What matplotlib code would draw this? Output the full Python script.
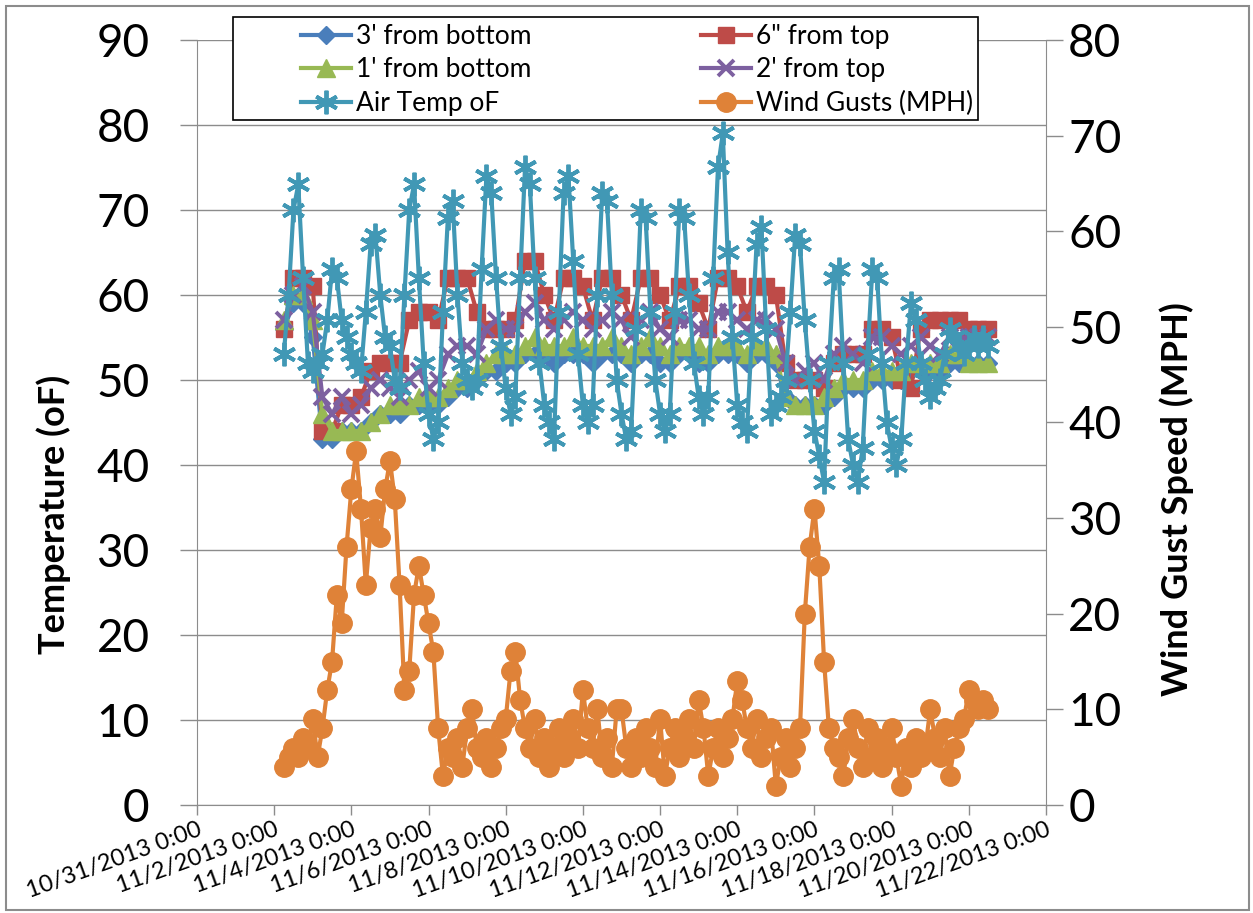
import pandas as pd
import matplotlib
matplotlib.use('Agg')
from matplotlib import pyplot as plt
from matplotlib.patches import Rectangle

plt.rcParams['font.family'] = ['Lato', 'DejaVu Sans']

# Time bases (water temps every 6 h, air temp + wind every 3 h)
water_times = pd.date_range('2013-11-02 06:00', '2013-11-20 12:00', freq='6h')
air_times = pd.date_range('2013-11-02 06:00', '2013-11-20 12:00', freq='3h')

# 3' from bottom
bottom_3ft = [56, 59, 59,
              55, 43, 43, 44,  44, 44, 45, 46,  46, 46, 47, 47,  47, 47, 48, 49,
              49, 50, 51, 51,  52, 52, 53, 53,  53, 52, 53, 53,  53, 52, 53, 53,
              53, 52, 53, 53,  52, 52, 53, 53,  52, 52, 53, 53,  53, 52, 53, 53,
              52, 48, 47, 47,  47, 47, 48, 49,  49, 49, 50, 50,  50, 50, 51, 51,
              51, 51, 52, 52,
              52, 52, 52]
# 6" from top
top_6in = [56, 62, 62,
           61, 44, 44, 47,  47, 48, 51, 52,  52, 52, 57, 58,  58, 57, 62, 62,
           62, 58, 56, 56,  56, 57, 64, 64,  60, 57, 62, 62,  61, 57, 62, 62,
           60, 57, 62, 62,  60, 57, 61, 61,  59, 56, 62, 62,  61, 58, 61, 61,
           60, 52, 50, 50,  50, 49, 52, 53,  53, 53, 56, 56,  55, 50, 49, 56,
           57, 57, 57, 57,
           56, 56, 56]
# 1' from bottom
bottom_1ft = [57, 60, 60,
              57, 46, 44, 44,  44, 44, 45, 46,  47, 47, 47, 48,  48, 48, 49, 50,
              50, 51, 52, 53,  53, 53, 54, 55,  54, 54, 54, 55,  54, 54, 54, 55,
              54, 53, 54, 55,  54, 53, 54, 54,  54, 53, 54, 54,  54, 53, 54, 54,
              53, 48, 47, 47,  47, 48, 49, 50,  50, 50, 51, 51,  51, 51, 52, 52,
              52, 52, 53, 53,
              52, 52, 52]
# 2' from top
top_2ft = [57, 60, 61,
           58, 48, 46, 48,  46, 47, 49, 50,  49, 48, 50, 51,  49, 50, 53, 54,
           54, 53, 56, 57,  56, 56, 58, 59,  57, 56, 57, 58,  57, 56, 57, 58,
           57, 55, 57, 58,  56, 55, 57, 57,  56, 56, 58, 58,  57, 56, 57, 57,
           56, 52, 50, 51,  52, 50, 53, 54,  53, 52, 55, 55,  54, 53, 54, 55,
           54, 53, 55, 55,
           55, 55, 55]
# Air Temp oF
air_temp = [53, 60, 70, 73, 62, 52,
            51, 52, 53, 57, 63, 62, 57, 55,
            53, 52, 51, 58, 66, 67, 60, 55,
            54, 50, 49, 60, 70, 73, 62, 52,
            46, 43, 45, 58, 69, 71, 60, 52,
            50, 49, 50, 63, 74, 72, 62, 54,
            49, 46, 48, 62, 75, 73, 62, 52,
            47, 45, 43, 58, 72, 74, 64, 53,
            47, 45, 47, 60, 72, 71, 60, 50,
            46, 43, 44, 56, 70, 69, 58, 50,
            46, 44, 46, 58, 70, 69, 60, 52,
            48, 46, 48, 62, 75, 79, 65, 55,
            47, 45, 44, 55, 66, 68, 56, 46,
            47, 48, 50, 58, 67, 66, 57, 50,
            44, 41, 38, 52, 62, 63, 52, 43,
            40, 38, 42, 53, 63, 62, 52, 45,
            42, 40, 43, 52, 59, 57, 52, 50,
            48, 49, 50, 53, 56, 55, 54, 53,
            54, 55, 54, 55, 54]
# Wind Gusts (MPH)
wind_gusts = [4, 5, 6, 5, 7, 6,
              9, 5, 8, 12, 15, 22, 19, 27,
              33, 37, 31, 23, 29, 31, 28, 33,
              36, 32, 23, 12, 14, 22, 25, 22,
              19, 16, 8, 3, 6, 5, 7, 4,
              8, 10, 6, 5, 7, 4, 6, 8,
              9, 14, 16, 11, 8, 6, 9, 5,
              7, 4, 6, 8, 5, 7, 9, 6,
              12, 8, 6, 10, 5, 7, 4, 10,
              10, 6, 4, 7, 5, 8, 6, 4,
              9, 3, 6, 8, 5, 7, 9, 6,
              11, 8, 3, 6, 8, 5, 7, 9,
              13, 11, 8, 6, 9, 5, 7, 8,
              2, 5, 7, 4, 6, 8, 20, 27,
              31, 25, 15, 8, 6, 5, 3, 7,
              9, 6, 4, 8, 5, 7, 4, 6,
              8, 5, 2, 6, 4, 7, 5, 6,
              10, 7, 5, 8, 3, 6, 8, 9,
              12, 11, 10, 11, 10]

tick_dates = pd.date_range('2013-10-31', '2013-11-22', freq='2D')
tick_labels = [f"{d.month}/{d.day}/{d.year} 0:00" for d in tick_dates]
temp_ticks = list(range(0, 91, 10))
wind_ticks = list(range(0, 81, 10))

grey = '#8C8C8C'

fig = plt.figure(figsize=(12.53, 9.13), dpi=100)
ax = fig.add_axes([0.1572, 0.1183, 0.6776, 0.8379])
ax2 = ax.twinx()

lw = 3
l_blue, = ax.plot(water_times, bottom_3ft, color='#4A7EBB', marker='D', markersize=9, lw=lw, label="3' from bottom")
l_red, = ax.plot(water_times, top_6in, color='#BE4B48', marker='s', markersize=12, lw=lw, label='6" from top')
l_green, = ax.plot(water_times, bottom_1ft, color='#98B954', marker='^', markersize=13, lw=lw, label="1' from bottom")
l_purple, = ax.plot(water_times, top_2ft, color='#7D60A0', marker='x', markersize=12, mew=2.8, lw=lw, label="2' from top")
l_air, = ax.plot(air_times, air_temp, color='#4198B5', marker=(6, 2, 0), markersize=17, mew=2.8, lw=lw, label='Air Temp oF')
l_wind, = ax2.plot(air_times, wind_gusts, color='#DF8238', marker='o', markersize=14, lw=lw, label='Wind Gusts (MPH)')

ax.set_xlim(pd.Timestamp('2013-10-31'), pd.Timestamp('2013-11-22'))
ax.set_ylim(0, 90)
ax2.set_ylim(0, 80)
ax.set_yticks(temp_ticks)
ax2.set_yticks(wind_ticks)
ax.set_xticks(tick_dates)
ax.set_xticklabels(tick_labels, rotation=20, ha='right', va='top', rotation_mode='anchor')

ax.yaxis.grid(True, color=grey, lw=1)
ax.set_axisbelow(True)

for s in ['top', 'right']:
    ax.spines[s].set_visible(False)
for s in ['left', 'bottom']:
    ax.spines[s].set_color(grey)
for s in ['top', 'left', 'bottom']:
    ax2.spines[s].set_visible(False)
ax2.spines['right'].set_color(grey)

ax.tick_params(axis='y', direction='out', length=12, width=1, color=grey, pad=22, labelsize=33)
ax.tick_params(axis='x', direction='out', length=7, width=1, color=grey, pad=3, labelsize=17)
ax2.tick_params(axis='y', direction='out', length=12, width=1, color=grey, pad=4, labelsize=33)

ax.set_ylabel('Temperature (oF)', fontsize=26, fontweight='bold')
ax.yaxis.set_label_coords(-0.148, 0.38)
ax2.set_ylabel('Wind Gust Speed (MPH)', fontsize=26, fontweight='bold', rotation=90)
ax2.yaxis.set_label_coords(1.134, 0.40)

# legend box + entries (Excel-style, overlapping the plot top)
box = Rectangle((233 / 1253, 1 - 120 / 913), 745 / 1253, 103 / 913, transform=fig.transFigure,
                facecolor='white', edgecolor='black', lw=1.2, zorder=4)
fig.add_artist(box)
handles = [l_blue, l_green, l_air, l_red, l_purple, l_wind]
leg = fig.legend(handles, [h.get_label() for h in handles], ncol=2, loc='center',
                 bbox_to_anchor=(0.5084, 0.9233), frameon=False, fontsize=19,
                 handlelength=1.9, handletextpad=0.2, columnspacing=6.4, labelspacing=0.33)
leg.set_zorder(6)

# outer chart border
fig.add_artist(Rectangle((6 / 1253, 3 / 913), 1243 / 1253, 904 / 913, transform=fig.transFigure,
                         fill=False, edgecolor=grey, lw=1.5))

plt.savefig('out.png', dpi=100)
